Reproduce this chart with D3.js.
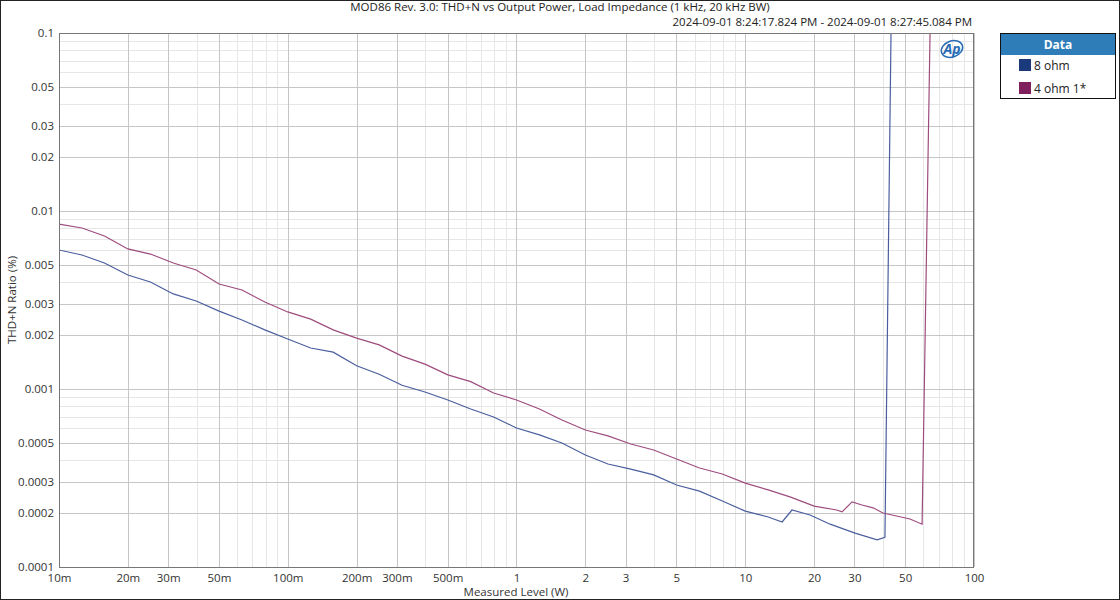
<!DOCTYPE html>
<html><head><meta charset="utf-8">
<script src="https://cdn.jsdelivr.net/npm/d3@7"></script>
<style>
body{margin:0;background:#fff;}
svg{display:block;font-family:"Open Sans","Noto Sans",sans-serif;}
</style></head>
<body><svg id="c" width="1120" height="600"></svg>
<script>
const title = "MOD86 Rev. 3.0: THD+N vs Output Power, Load Impedance (1 kHz, 20 kHz BW)";
const subtitle = "2024-09-01 8:24:17.824 PM - 2024-09-01 8:27:45.084 PM";
const xLabel = "Measured Level (W)";
const yLabel = "THD+N Ratio (%)";
const seriesNames = ["8 ohm", "4 ohm 1*"];
const seriesColors = ["#1b3a7c", "#7f1f5e"];
const lineColors = ["#4a5e9e", "#9e4c7e"];

const xTicks = [0.01,0.02,0.03,0.05,0.1,0.2,0.3,0.5,1,2,3,5,10,20,30,50,100];
const xTickLabels = ["10m","20m","30m","50m","100m","200m","300m","500m","1","2","3","5","10","20","30","50","100"];
const yTicks = [0.0001,0.0002,0.0003,0.0005,0.001,0.002,0.003,0.005,0.01,0.02,0.03,0.05,0.1];
const yTickLabels = ["0.0001","0.0002","0.0003","0.0005","0.001","0.002","0.003","0.005","0.01","0.02","0.03","0.05","0.1"];

const power8 = [0.01,0.0126,0.0158,0.02,0.0251,0.0316,0.0398,0.0501,0.0631,0.0794,0.1,0.126,0.158,0.2,0.251,0.316,0.398,0.501,0.631,0.794,1.0,1.26,1.58,2.0,2.51,3.16,3.98,5.01,6.31,7.94,10.0,12.6,14.5,16.0,19.2,23.5,30.2,37.7,40.8,45.0];
const thd8 = [0.00604,0.00566,0.00510,0.00437,0.00399,0.00342,0.00312,0.00274,0.00244,0.00215,0.00191,0.00170,0.00161,0.00135,0.00121,0.00105,0.000962,0.000868,0.000772,0.000696,0.000604,0.000552,0.000497,0.000426,0.000379,0.000355,0.000329,0.000289,0.000267,0.000235,0.000206,0.000191,0.000179,0.000209,0.000196,0.000174,0.000155,0.000142,0.000147,5.0];

const power4 = [0.01,0.0126,0.0158,0.02,0.0251,0.0316,0.0398,0.0501,0.0631,0.0794,0.1,0.126,0.158,0.2,0.251,0.316,0.398,0.501,0.631,0.794,1.0,1.26,1.58,2.0,2.51,3.16,3.98,5.01,6.31,7.94,10.0,12.6,15.8,20.0,25.1,26.5,29.3,32.4,36.2,40.0,52.5,59.3,67.5];
const thd4 = [0.00845,0.00803,0.00724,0.00612,0.00573,0.00510,0.00466,0.00389,0.00360,0.00308,0.00271,0.00247,0.00215,0.00193,0.00177,0.00153,0.00138,0.00120,0.00110,0.000950,0.000868,0.000772,0.000670,0.000588,0.000545,0.000491,0.000454,0.000404,0.000360,0.000333,0.000296,0.000271,0.000247,0.000220,0.000209,0.000204,0.000232,0.000223,0.000215,0.000201,0.000186,0.000174,5.0];

const svg = d3.select("#c");
const L = 59, R = 974, T = 33, B = 567;
const x = d3.scaleLog().domain([0.01, 100]).range([L, R]);
const y = d3.scaleLog().domain([0.0001, 0.1]).range([B, T]);

// outer border
svg.append("rect").attr("x",0.5).attr("y",0.5).attr("width",1119).attr("height",599)
  .attr("fill","none").attr("stroke","#222");

// minor grid
const minorX = [], minorY = [];
for (let e = -2; e < 2; e++) for (let m = 1; m < 10; m++) minorX.push(m * Math.pow(10, e));
for (let e = -4; e < -1; e++) for (let m = 1; m < 10; m++) minorY.push(m * Math.pow(10, e));
const g = svg.append("g");
g.selectAll(".mx").data(minorX.filter(v => !xTicks.includes(+v.toPrecision(3)))).enter().append("line")
  .attr("x1", d => Math.round(x(d))+0.5).attr("x2", d => Math.round(x(d))+0.5).attr("y1", T).attr("y2", B)
  .attr("stroke", "#e6e6e6");
g.selectAll(".my").data(minorY.filter(v => !yTicks.includes(+v.toPrecision(3)))).enter().append("line")
  .attr("y1", d => Math.round(y(d))+0.5).attr("y2", d => Math.round(y(d))+0.5).attr("x1", L).attr("x2", R)
  .attr("stroke", "#e6e6e6");
g.selectAll(".Mx").data(xTicks).enter().append("line")
  .attr("x1", d => Math.round(x(d))+0.5).attr("x2", d => Math.round(x(d))+0.5).attr("y1", T).attr("y2", B)
  .attr("stroke", "#c6c6c6");
g.selectAll(".My").data(yTicks).enter().append("line")
  .attr("y1", d => Math.round(y(d))+0.5).attr("y2", d => Math.round(y(d))+0.5).attr("x1", L).attr("x2", R)
  .attr("stroke", "#c6c6c6");

// axes
const xAxis = d3.axisBottom(x).tickValues(xTicks).tickFormat((d,i) => xTickLabels[i]).tickSize(0).tickPadding(0);
const yAxis = d3.axisLeft(y).tickValues(yTicks).tickFormat((d,i) => yTickLabels[i]).tickSize(0).tickPadding(5);
const gx = svg.append("g").attr("transform", `translate(0,${B})`).call(xAxis);
const gy = svg.append("g").attr("transform", `translate(${L},0)`).call(yAxis);
[gx, gy].forEach(a => {
  a.select(".domain").remove();
  a.selectAll("text").attr("font-size", 11.5).attr("fill", "#333").attr("font-family", '"Open Sans","Noto Sans",sans-serif');
});
gx.selectAll("text").attr("y", 15).attr("dy", null);
gy.selectAll("text").attr("dy", "0.3em");

// logo
const logo = svg.append("g").attr("transform","translate(952,49)");
logo.append("ellipse").attr("rx",11).attr("ry",8).attr("fill","none").attr("stroke","#2a6db5").attr("stroke-width",1.5).attr("transform","rotate(-20)");
logo.append("text").text("Ap").attr("text-anchor","middle").attr("y",5).attr("font-size",14)
  .attr("font-style","italic").attr("font-weight","bold").attr("fill","#2a6db5");

// lines
svg.append("clipPath").attr("id","clip").append("rect").attr("x",L).attr("y",T).attr("width",R-L).attr("height",B-T);
const line = d3.line().x(d => x(d[0])).y(d => y(d[1]));
const series = [d3.zip(power8, thd8), d3.zip(power4, thd4)];
svg.append("g").attr("clip-path","url(#clip)").selectAll("path").data(series).enter().append("path")
  .attr("d", line).attr("fill","none").attr("stroke", (d,i) => lineColors[i]).attr("stroke-width", 1.2);

// frame
svg.append("rect").attr("x",L+0.5).attr("y",T+0.5).attr("width",R-L-1).attr("height",B-T)
  .attr("fill","none").attr("stroke","#777");

// titles
svg.append("text").text(title).attr("x",560).attr("y",11).attr("text-anchor","middle").attr("font-size",11.5).attr("fill","#222");
svg.append("text").text(subtitle).attr("x",972).attr("y",26).attr("text-anchor","end").attr("font-size",11.5).attr("fill","#222");
svg.append("text").text(xLabel).attr("x",516).attr("y",596).attr("text-anchor","middle").attr("font-size",11.5).attr("fill","#333");
svg.append("text").text(yLabel).attr("transform","translate(16,300) rotate(-90)").attr("text-anchor","middle").attr("font-size",11.5).attr("fill","#333");

// legend
const lg = svg.append("g");
lg.append("rect").attr("x",1000.5).attr("y",33.5).attr("width",115).attr("height",65).attr("fill","#fff").attr("stroke","#111");
lg.append("rect").attr("x",1001).attr("y",34).attr("width",114).attr("height",21).attr("fill","#2e7db8");
lg.append("text").text("Data").attr("x",1058).attr("y",49).attr("text-anchor","middle").attr("font-size",12).attr("font-weight","bold").attr("fill","#fff");
seriesNames.forEach((n,i) => {
  lg.append("rect").attr("x",1019).attr("y",59 + i*23).attr("width",12).attr("height",12).attr("fill",seriesColors[i]);
  lg.append("text").text(n).attr("x",1034).attr("y",70 + i*23).attr("font-size",12).attr("fill","#222");
});
</script></body></html>
